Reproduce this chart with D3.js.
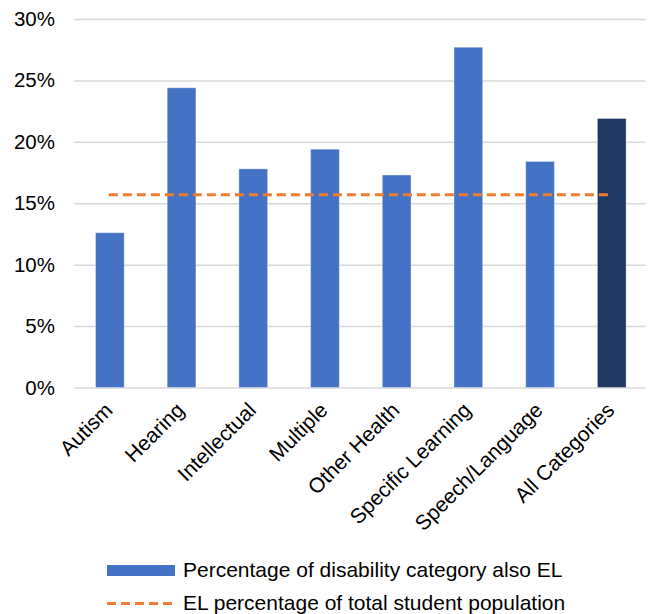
<!DOCTYPE html>
<html>
<head>
<meta charset="utf-8">
<script src="https://cdn.jsdelivr.net/npm/d3@7"></script>
<style>
  html, body { margin: 0; padding: 0; background: #fff; }
  svg { display: block; font-family: "Liberation Sans", Arial, sans-serif; }
</style>
</head>
<body>
<svg id="chart" width="650" height="614"></svg>
<script>
// Share of each disability category that is also EL, plus the overall EL share
const categories = ["Autism", "Hearing", "Intellectual", "Multiple", "Other Health",
                    "Specific Learning", "Speech/Language", "All Categories"];
const elPercent = [12.6, 24.4, 17.8, 19.4, 17.3, 27.7, 18.4, 21.9];
const elTotalPercent = 15.7;
const yTicks = [0, 5, 10, 15, 20, 25, 30];
const legendLabels = ["Percentage of disability category also EL",
                      "EL percentage of total student population"];

const svg = d3.select("#chart");
const plot = { left: 74, right: 647.6, top: 19, bottom: 387.5 };

const x = d3.scaleBand()
  .domain(categories)
  .range([plot.left, plot.right])
  .paddingInner(0.6)
  .paddingOuter(0.3);

const y = d3.scaleLinear()
  .domain([0, 30])
  .range([plot.bottom, plot.top]);

// Horizontal gridlines with percent labels
const yAxis = d3.axisLeft(y)
  .tickValues(yTicks)
  .tickFormat(d => d + "%")
  .tickSize(-(plot.right - plot.left - 2))
  .tickPadding(19);

const gy = svg.append("g")
  .attr("transform", `translate(${plot.left},0)`)
  .call(yAxis);
gy.select(".domain").remove();
gy.selectAll(".tick line").attr("stroke", "#d9d9d9").attr("stroke-width", 1.5);
gy.selectAll(".tick text")
  .attr("fill", "#000")
  .style("font-size", "20.5px");

// Bars
svg.append("g").selectAll("rect")
  .data(categories)
  .join("rect")
  .attr("x", d => x(d))
  .attr("width", x.bandwidth())
  .attr("y", (d, i) => y(elPercent[i]))
  .attr("height", (d, i) => y(0) - y(elPercent[i]))
  .attr("fill", d => d === "All Categories" ? "#203864" : "#4472C4")
  .attr("stroke", "rgba(255,255,255,0.35)")
  .attr("stroke-width", 1);

// Overall EL share reference line, spanning first to last bar centre
const half = x.bandwidth() / 2;
svg.append("line")
  .attr("x1", x(categories[0]) + half - 1)
  .attr("x2", x(categories[categories.length - 1]) + half - 1)
  .attr("y1", y(elTotalPercent))
  .attr("y2", y(elTotalPercent))
  .attr("stroke", "#ED7D31")
  .attr("stroke-width", 3)
  .attr("stroke-dasharray", "9,5");

// Rotated category labels
const xAxis = d3.axisBottom(x).tickSize(0).tickPadding(0);
const gx = svg.append("g")
  .attr("transform", `translate(0,${plot.bottom})`)
  .call(xAxis);
gx.select(".domain").remove();
gx.selectAll(".tick text")
  .attr("fill", "#000")
  .style("font-size", "21px")
  .attr("text-anchor", "end")
  .attr("dy", null)
  .attr("y", 0)
  .attr("transform", "translate(4,24) rotate(-45)");

// Legend
const lg = svg.append("g");
lg.append("rect")
  .attr("x", 107).attr("y", 565)
  .attr("width", 68).attr("height", 11)
  .attr("fill", "#4472C4");
lg.append("line")
  .attr("x1", 107).attr("x2", 175)
  .attr("y1", 603.5).attr("y2", 603.5)
  .attr("stroke", "#ED7D31")
  .attr("stroke-width", 3)
  .attr("stroke-dasharray", "9,5");
lg.selectAll("text")
  .data(legendLabels)
  .join("text")
  .attr("x", 183)
  .attr("y", (d, i) => 577 + i * 33)
  .attr("fill", "#000")
  .style("font-size", "21px")
  .text(d => d);
</script>
</body>
</html>
